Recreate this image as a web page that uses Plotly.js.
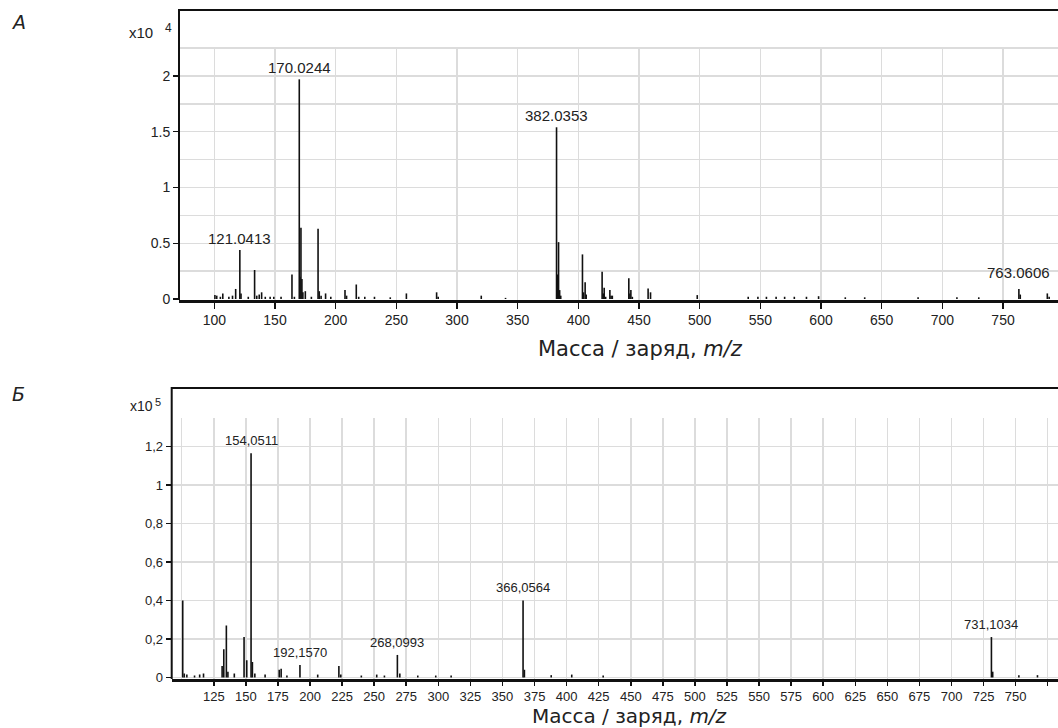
<!DOCTYPE html>
<html>
<head>
<meta charset="utf-8">
<script src="https://cdn.plot.ly/plotly-3.0.1.min.js"></script>
<style>
html,body{margin:0;padding:0;background:#fff;}
#chart{width:1058px;height:728px;}
</style>
</head>
<body>
<div id="chart"></div>
<script>
// ---------- Panel A (intensity, x10^4) ----------
const topMz = [100.5,102,105,107,112,115,117.6,121.0413,122,128,133.2,135,137,139,142,146,149,155,
  164,166,170.0244,170.6,171.4,172.2,173,175,180,185.5,186.5,188,191.7,196,207.7,209,217,219,224,232,245,
  258.3,283.2,284.5,320,340,382.0353,383,383.7,384.6,385.5,403.4,404.3,405.6,406.5,419.6,420.5,421.3,422.5,
  426,427,428,441.6,442.5,443.3,444.5,457.5,459.5,498,540,548,555,563,570,578,588,598,620,636,680,712,730,
  763.0606,764.2,786.5,788];
const topInt = [0.035,0.03,0.02,0.05,0.02,0.03,0.09,0.44,0.05,0.02,0.26,0.03,0.04,0.06,0.02,0.02,0.02,0.02,
  0.22,0.02,1.97,0.2,0.64,0.18,0.06,0.07,0.02,0.63,0.07,0.03,0.05,0.02,0.08,0.03,0.13,0.02,0.02,0.02,0.015,
  0.05,0.06,0.02,0.03,0.01,1.54,0.22,0.51,0.08,0.03,0.40,0.06,0.15,0.04,0.245,0.05,0.10,0.02,
  0.08,0.03,0.03,0.185,0.05,0.08,0.02,0.095,0.06,0.035,0.02,0.02,0.02,0.02,0.02,0.02,0.02,0.025,0.015,0.015,0.015,0.015,0.015,
  0.09,0.04,0.05,0.02];
const topLabeled = [121.0413,170.0244,382.0353,763.0606];

// ---------- Panel Б (intensity, x10^5) ----------
const botMz = [100.8,102,104,110,114,117,131.5,132.8,134.8,136,141,148.6,150.7,154.0511,155.1,157,165,176,177.5,182,
  192.157,206,222.5,224,240,252,258,268.0993,270,284,298,310,366.0564,367.1,388,404,428.5,731.1034,732.1,752.5,767];
const botInt = [0.40,0.02,0.015,0.01,0.015,0.02,0.06,0.146,0.27,0.03,0.02,0.21,0.09,1.165,0.08,0.02,0.015,0.04,0.045,0.01,
  0.065,0.015,0.06,0.015,0.01,0.015,0.01,0.117,0.02,0.01,0.01,0.01,0.40,0.04,0.012,0.015,0.01,0.21,0.03,0.012,0.012];
const botLabeled = [154.0511,192.157,268.0993,366.0564,731.1034];

const topYTicks = [0,0.5,1,1.5,2];
const topYLabels = ['0','0.5','1','1.5','2'];
const botYTicks = [0,0.2,0.4,0.6,0.8,1,1.2];
const botYLabels = ['0','0,2','0,4','0,6','0,8','1','1,2'];
const topXTicks = [100,150,200,250,300,350,400,450,500,550,600,650,700,750];
const botXTicks = [125,150,175,200,225,250,275,300,325,350,375,400,425,450,475,500,525,550,575,600,625,650,675,700,725,750,775];

const xTitle = 'Масса / заряд, <i>m/z</i>';

function sticks(mz, inten) {
  const x = [], y = [];
  mz.forEach((m, i) => { x.push(m, m, null); y.push(0, inten[i], null); });
  return {x, y};
}
const W = 1058, H = 728;
const px = v => v / W;
const py = v => 1 - v / H;

const sTop = sticks(topMz, topInt);
const sBot = sticks(botMz, botInt);

const data = [
  {type:'scatter', mode:'lines', x:sTop.x, y:sTop.y, xaxis:'x', yaxis:'y',
   line:{color:'#111', width:1.6}, hoverinfo:'skip', showlegend:false},
  {type:'scatter', mode:'lines', x:sBot.x, y:sBot.y, xaxis:'x2', yaxis:'y2',
   line:{color:'#111', width:1.6}, hoverinfo:'skip', showlegend:false}
];

const grid = '#dcdcdc';
const sans = 'Liberation Sans, Arial, sans-serif';
const tickFont = {family:sans, size:14, color:'#222'};
const tickFontB = {family:sans, size:13, color:'#222'};
const titleFont = {family:'DejaVu Sans, Noto Sans, sans-serif', size:21, color:'#222'};
const titleFontB = {family:'DejaVu Sans, Noto Sans, sans-serif', size:20, color:'#222'};

const annotations = [];
topLabeled.forEach(m => {
  const i = topMz.indexOf(m);
  annotations.push({xref:'x', yref:'y', x:m, y:topInt[i], text:m.toFixed(4),
    showarrow:false, yanchor:'bottom', yshift: m > 700 ? 6 : 1,
    font:{family:sans, size:15, color:'#222'}});
});
botLabeled.forEach(m => {
  const i = botMz.indexOf(m);
  annotations.push({xref:'x2', yref:'y2', x:m, y:botInt[i], text:m.toFixed(4).replace('.', ','),
    showarrow:false, yanchor:'bottom', yshift:3,
    font:{family:sans, size:13, color:'#222'}});
});
// multipliers
annotations.push({xref:'paper', yref:'paper', x:px(127), y:py(33), xanchor:'left', yanchor:'middle',
  text:'x10', showarrow:false, font:{family:sans, size:15, color:'#222'}});
annotations.push({xref:'paper', yref:'paper', x:px(163), y:py(28), xanchor:'left', yanchor:'middle',
  text:'4', showarrow:false, font:{family:sans, size:12, color:'#222'}});
annotations.push({xref:'paper', yref:'paper', x:px(128), y:py(406), xanchor:'left', yanchor:'middle',
  text:'x10', showarrow:false, font:{family:sans, size:14, color:'#222'}});
annotations.push({xref:'paper', yref:'paper', x:px(153), y:py(402), xanchor:'left', yanchor:'middle',
  text:'5', showarrow:false, font:{family:sans, size:11, color:'#222'}});
// axis titles
annotations.push({xref:'paper', yref:'paper', x:px(640), y:py(349), xanchor:'center', yanchor:'middle',
  text:xTitle, showarrow:false, font:titleFont});
annotations.push({xref:'paper', yref:'paper', x:px(629), y:py(703), xanchor:'center', yanchor:'top',
  text:xTitle, showarrow:false, font:titleFontB, borderpad:0});
// panel letters
annotations.push({xref:'paper', yref:'paper', x:px(18), y:py(22), xanchor:'center', yanchor:'middle',
  text:'<i>А</i>', showarrow:false, font:{family:'DejaVu Sans, sans-serif', size:19, color:'#222'}});
annotations.push({xref:'paper', yref:'paper', x:px(18), y:py(394), xanchor:'center', yanchor:'middle',
  text:'<i>Б</i>', showarrow:false, font:{family:'DejaVu Sans, sans-serif', size:19, color:'#222'}});

const shapes = [
  {type:'path', xref:'paper', yref:'paper',
   path:`M ${px(179)} ${py(300)} L ${px(179)} ${py(10)} L 1 ${py(10)}`,
   line:{color:'#111', width:2}},
  {type:'path', xref:'paper', yref:'paper',
   path:`M ${px(171.7)} ${py(679)} L ${px(171.7)} ${py(388)} L 1 ${py(388)}`,
   line:{color:'#111', width:2}}
];

const layout = {
  width:W, height:H,
  margin:{l:0, r:0, t:0, b:0},
  paper_bgcolor:'#fff', plot_bgcolor:'#fff',
  showlegend:false,
  xaxis:{domain:[px(179), 1], range:[70.9, 795.3], anchor:'y',
    tickmode:'array', tickvals:topXTicks, ticktext:topXTicks.map(String),
    showgrid:true, gridcolor:grid, gridwidth:1.5, zeroline:false,
    showline:true, linecolor:'#111', linewidth:2.5,
    ticks:'outside', ticklen:6, tickcolor:'#111', tickwidth:1.5, tickfont:tickFont},
  yaxis:{domain:[py(300), py(47)], range:[-0.009, 2.26], anchor:'x',
    tickmode:'array', tickvals:topYTicks, ticktext:topYLabels,
    showgrid:true, gridcolor:grid, gridwidth:1.5, zeroline:false,
    minor:{dtick:0.25, tick0:0, showgrid:true, gridcolor:grid, gridwidth:1.5},
    showline:false, ticks:'outside', ticklen:5, tickcolor:'#111', tickwidth:1.5, tickfont:tickFont},
  xaxis2:{domain:[px(171.7), 1], range:[92.2, 783], anchor:'y2',
    tickmode:'array', tickvals:botXTicks, ticktext:botXTicks.map(String),
    showgrid:true, gridcolor:grid, gridwidth:1.5, zeroline:false,
    minor:{dtick:25, tick0:0, showgrid:true, gridcolor:grid, gridwidth:1.5},
    showline:true, linecolor:'#111', linewidth:2.5,
    ticks:'outside', ticklen:4, tickcolor:'#111', tickwidth:1.5, tickfont:tickFontB},
  yaxis2:{domain:[py(679), py(418)], range:[-0.008, 1.348], anchor:'x2',
    tickmode:'array', tickvals:botYTicks, ticktext:botYLabels,
    showgrid:true, gridcolor:grid, gridwidth:1.5, zeroline:false,
    showline:false, ticks:'outside', ticklen:5, tickcolor:'#111', tickwidth:1.5, tickfont:tickFontB},
  annotations:annotations,
  shapes:shapes
};

Plotly.newPlot('chart', data, layout, {staticPlot:true, displayModeBar:false});
</script>
</body>
</html>
